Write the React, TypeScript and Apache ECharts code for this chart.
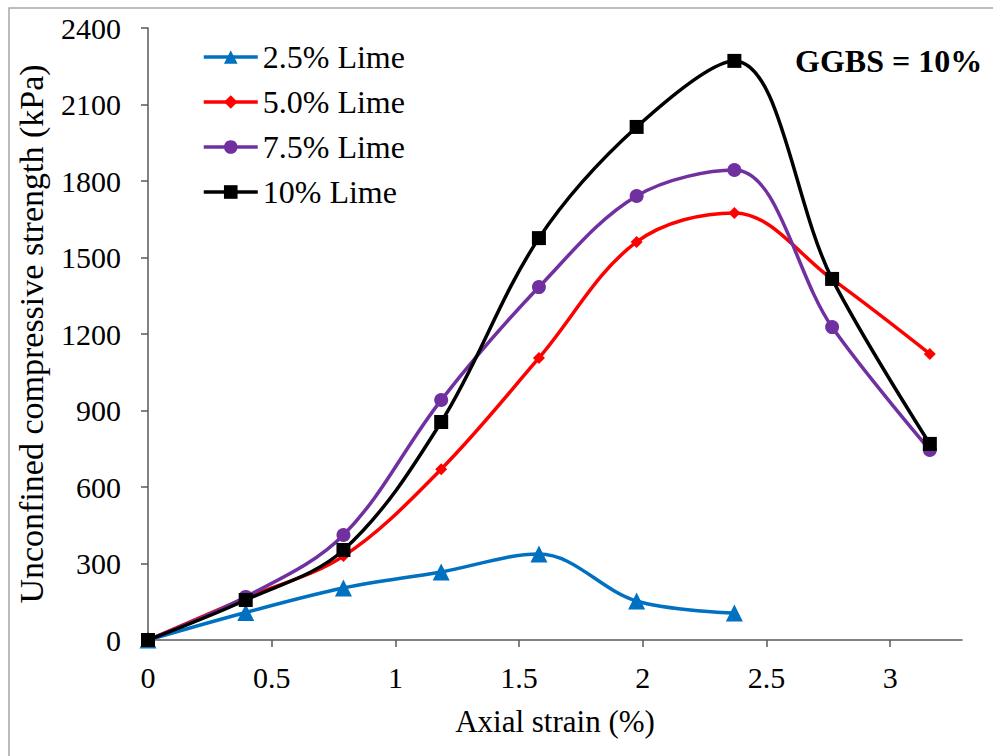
import React, { useEffect, useRef } from "react";
import * as echarts from "echarts";

const strain = [0, 0.395, 0.79, 1.185, 1.58, 1.975, 2.37, 2.765, 3.16];
const lime25 = [0, 108, 204, 267, 337, 153, 106];
const lime50 = [0, 165, 329, 670, 1106, 1561, 1675, 1415, 1122];
const lime75 = [0, 169, 412, 941, 1384, 1741, 1843, 1227, 745];
const lime10 = [0, 157, 353, 855, 1576, 2012, 2271, 1416, 769];
const seriesNames = ["2.5% Lime", "5.0% Lime", "7.5% Lime", "10% Lime"];
const colors = ["#0070C0", "#FF0000", "#7030A0", "#000000"];
const symbols = ["triangle", "diamond", "circle", "rect"];
const symbolSizes = [17, 12, 14, 14];

const FONT = "'Liberation Serif', 'Times New Roman', serif";

export default function App() {
  const ref = useRef<HTMLDivElement>(null);
  useEffect(() => {
    document.body.style.margin = "0";
    const chart = echarts.init(ref.current!, null, { renderer: "svg" });
    const all = [lime25, lime50, lime75, lime10];
    chart.setOption({
      animation: false,
      backgroundColor: "#ffffff",
      textStyle: { fontFamily: FONT },
      grid: { left: 148, right: 31, top: 28, bottom: 116 },
      legend: {
        orient: "vertical",
        left: 197,
        top: 36,
        itemWidth: 54,
        itemHeight: 17,
        itemGap: 13,
        data: seriesNames,
        lineStyle: { width: 3.5 },
        textStyle: { fontFamily: FONT, fontSize: 32, color: "#000" },
      },
      graphic: [
        {
          type: "rect",
          shape: { x: 9, y: 8, width: 1100, height: 900 },
          style: { fill: "none", stroke: "#a6a6a6", lineWidth: 1.5 },
          silent: true,
        },
        {
          type: "text",
          left: 795,
          top: 45,
          style: {
            text: "GGBS = 10%",
            font: `bold 32px ${FONT}`,
            fill: "#000",
          },
        },
      ],
      xAxis: {
        type: "value",
        min: 0,
        max: 3.29,
        interval: 0.5,
        name: "Axial strain (%)",
        nameLocation: "middle",
        nameGap: 66,
        nameTextStyle: { fontFamily: FONT, fontSize: 31, color: "#000" },
        axisLine: { show: true, lineStyle: { color: "#595959", width: 1.5 } },
        axisTick: { show: true, inside: false, length: 7, lineStyle: { color: "#595959", width: 1.5 } },
        axisLabel: {
          showMaxLabel: false,
          margin: 22,
          fontFamily: FONT,
          fontSize: 30,
          color: "#000",
        },
        splitLine: { show: false },
      },
      yAxis: {
        type: "value",
        min: 0,
        max: 2400,
        interval: 300,
        name: "Unconfined compressive strength (kPa)",
        nameLocation: "middle",
        nameGap: 100,
        nameTextStyle: { fontFamily: FONT, fontSize: 34, color: "#000" },
        axisLine: { show: true, lineStyle: { color: "#595959", width: 1.5 } },
        axisTick: { show: true, inside: false, length: 7, lineStyle: { color: "#595959", width: 1.5 } },
        axisLabel: {
          margin: 27,
          fontFamily: FONT,
          fontSize: 30,
          color: "#000",
          formatter: (v: number) => String(v),
        },
        splitLine: { show: false },
      },
      series: all.map((vals, i) => ({
        name: seriesNames[i],
        type: "line",
        smooth: 0.35,
        data: vals.map((v, j) => [strain[j], v]),
        symbol: symbols[i],
        symbolSize: symbolSizes[i],
        showAllSymbol: true,
        lineStyle: { color: colors[i], width: 3.5 },
        itemStyle: { color: colors[i], borderWidth: 0 },
        z: 2 + i,
      })),
    });
    return () => chart.dispose();
  }, []);
  return <div ref={ref} style={{ width: 993, height: 756 }} />;
}
